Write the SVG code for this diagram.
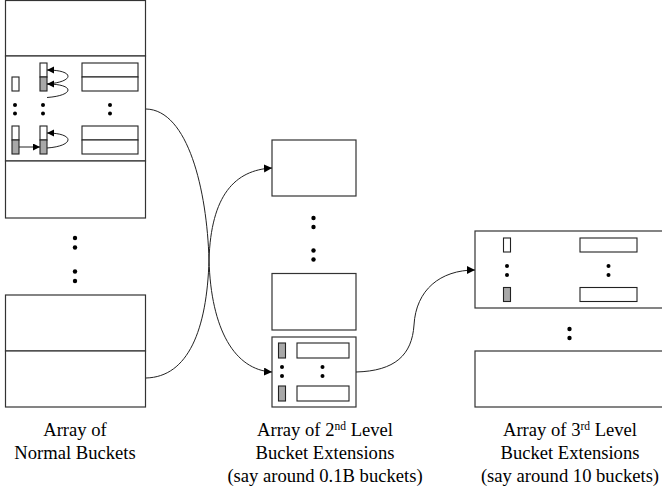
<svg xmlns="http://www.w3.org/2000/svg" width="662" height="489" viewBox="0 0 662 489">
<defs>
<style>
.box{fill:#fff;stroke:#333;stroke-width:1.2}
.in{fill:#fff;stroke:#222;stroke-width:1.1}
.g{fill:#a8a8a8;stroke:#222;stroke-width:1.1}
.c{fill:none;stroke:#222;stroke-width:1}
.d{fill:#000}
.t{font-family:"Liberation Serif","Times New Roman",serif;font-size:18.6px;fill:#000;text-anchor:middle}
.sup{font-size:11.5px}
</style>
<marker id="ah" markerUnits="userSpaceOnUse" markerWidth="9" markerHeight="9" refX="8" refY="4" orient="auto">
<path d="M0,0 L8,4 L0,8 z" fill="#000"/>
</marker>
<marker id="as" markerUnits="userSpaceOnUse" markerWidth="8" markerHeight="8" refX="7" refY="3.5" orient="auto">
<path d="M0,0 L7,3.5 L0,7 z" fill="#000"/>
</marker>
</defs>

<g id="normal-buckets">
<rect class="box" x="5.5" y="0.5" width="140" height="55.5"/>
<rect class="box" x="5.5" y="56" width="140" height="105"/>
<rect class="box" x="5.5" y="161" width="140" height="57"/>
<rect class="in" x="12" y="77" width="7" height="14"/>
<rect class="in" x="40" y="63" width="7" height="14"/>
<rect class="g" x="40" y="77" width="7" height="14"/>
<rect class="in" x="82" y="63" width="56" height="14"/>
<rect class="in" x="82" y="77" width="56" height="14"/>
<circle class="d" cx="15" cy="105" r="2"/><circle class="d" cx="15" cy="113.5" r="2"/>
<circle class="d" cx="43" cy="105" r="2"/><circle class="d" cx="43" cy="113.5" r="2"/>
<circle class="d" cx="110" cy="105" r="2"/><circle class="d" cx="110" cy="113.5" r="2"/>
<rect class="in" x="12" y="126" width="7" height="14"/>
<rect class="g" x="12" y="140" width="7" height="14"/>
<rect class="in" x="40" y="126" width="7" height="14"/>
<rect class="g" x="40" y="140" width="7" height="14"/>
<rect class="in" x="82" y="126" width="56" height="14"/>
<rect class="in" x="82" y="140" width="56" height="14"/>
<circle class="d" cx="75" cy="238" r="2.2"/><circle class="d" cx="75" cy="247.5" r="2.2"/>
<circle class="d" cx="75" cy="271.5" r="2.2"/><circle class="d" cx="75" cy="281" r="2.2"/>
<rect class="box" x="5.5" y="295" width="140" height="56"/>
<rect class="box" x="5.5" y="351" width="140" height="56"/>
</g>

<g id="second-level">
<rect class="box" x="272" y="140" width="84" height="56"/>
<circle class="d" cx="313.5" cy="218" r="2.2"/><circle class="d" cx="313.5" cy="227" r="2.2"/>
<circle class="d" cx="313.5" cy="250.5" r="2.2"/><circle class="d" cx="313.5" cy="259.5" r="2.2"/>
<rect class="box" x="272" y="273.5" width="84" height="56.5"/>
<rect class="box" x="272" y="337" width="84" height="70"/>
<rect class="g" x="278.5" y="343" width="7" height="15"/>
<rect class="g" x="278.5" y="386" width="7" height="15"/>
<rect class="in" x="297" y="343" width="52" height="15"/>
<rect class="in" x="297" y="386" width="52" height="15"/>
<circle class="d" cx="282" cy="367" r="2"/><circle class="d" cx="282" cy="376" r="2"/>
<circle class="d" cx="322.5" cy="367" r="2"/><circle class="d" cx="322.5" cy="376" r="2"/>
</g>

<g id="third-level">
<rect class="box" x="475" y="231" width="200" height="77"/>
<rect class="in" x="503.5" y="238" width="7" height="14"/>
<rect class="g" x="503.5" y="287.5" width="7" height="14"/>
<rect class="in" x="580" y="238" width="57" height="14"/>
<rect class="in" x="580" y="287.5" width="57" height="14"/>
<circle class="d" cx="507" cy="266" r="2"/><circle class="d" cx="507" cy="275" r="2"/>
<circle class="d" cx="608.5" cy="266" r="2"/><circle class="d" cx="608.5" cy="275" r="2"/>
<circle class="d" cx="569.5" cy="329" r="2.2"/><circle class="d" cx="569.5" cy="338" r="2.2"/>
<rect class="box" x="475" y="351" width="200" height="56"/>
</g>

<g id="connectors">
<path class="c" d="M47,84 C75,82 75,70 47,70" marker-end="url(#as)"/>
<path class="c" d="M47,97.5 C75,95.5 75,84 47,84" marker-end="url(#as)"/>
<path class="c" d="M47,148 C75,146 75,133 47,133" marker-end="url(#as)"/>
<path class="c" d="M19,147 L40,147" marker-end="url(#as)"/>
<path class="c" d="M146,109 C188,110 207,190 209,260 C211,330 235,370 272,372" marker-end="url(#ah)"/>
<path class="c" d="M146,378 C188,377 207,330 209,260 C211,195 235,170 272,168" marker-end="url(#ah)"/>
<path class="c" d="M356,372 C395,371 412,355 414,325 C416,290 440,270 475,270" marker-end="url(#ah)"/>
</g>

<g id="labels">
<text class="t" x="75" y="436">Array of</text>
<text class="t" x="75" y="459">Normal Buckets</text>
<text class="t" x="325" y="436">Array of 2<tspan class="sup" dy="-6">nd</tspan><tspan dy="6"> Level</tspan></text>
<text class="t" x="325" y="459">Bucket Extensions</text>
<text class="t" x="325" y="482">(say around 0.1B buckets)</text>
<text class="t" x="570" y="436">Array of 3<tspan class="sup" dy="-6">rd</tspan><tspan dy="6"> Level</tspan></text>
<text class="t" x="570" y="459">Bucket Extensions</text>
<text class="t" x="570" y="482">(say around 10 buckets)</text>
</g>
</svg>
